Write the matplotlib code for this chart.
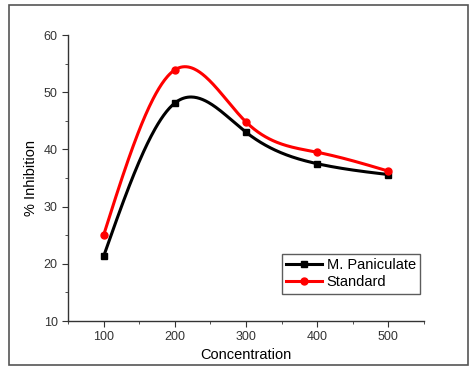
import numpy as np
import matplotlib.pyplot as plt
from matplotlib.patches import Rectangle

plt.rcParams['font.family'] = ['Liberation Sans', 'DejaVu Sans']

conc = [100, 200, 300, 400, 500]
paniculate = [21.3, 48.1, 43.0, 37.5, 35.6]
standard = [25.0, 53.9, 44.8, 39.5, 36.2]


# natural cubic spline, like Origin's spline line
def spline(x, y, n=300):
    x = np.asarray(x, float)
    y = np.asarray(y, float)
    k = len(x)
    h = np.diff(x)
    A = np.zeros((k, k))
    b = np.zeros(k)
    A[0, 0] = A[-1, -1] = 1
    for i in range(1, k - 1):
        A[i, i - 1] = h[i - 1]
        A[i, i] = 2 * (h[i - 1] + h[i])
        A[i, i + 1] = h[i]
        b[i] = 6 * ((y[i + 1] - y[i]) / h[i] - (y[i] - y[i - 1]) / h[i - 1])
    M = np.linalg.solve(A, b)
    xs = np.linspace(x[0], x[-1], n)
    idx = np.clip(np.searchsorted(x, xs) - 1, 0, k - 2)
    x0, x1 = x[idx], x[idx + 1]
    hh = x1 - x0
    t0, t1 = x1 - xs, xs - x0
    ys = (M[idx] * t0 ** 3 + M[idx + 1] * t1 ** 3) / (6 * hh) \
        + (y[idx] / hh - M[idx] * hh / 6) * t0 \
        + (y[idx + 1] / hh - M[idx + 1] * hh / 6) * t1
    return xs, ys


fig = plt.figure(figsize=(4.75, 3.7), dpi=100)
fig.patches.append(Rectangle((9 / 475, 5 / 370), 459 / 475, 360 / 370,
                             transform=fig.transFigure, fill=False,
                             edgecolor='#555555', linewidth=1.2))
ax = fig.add_axes([68 / 475, 49 / 370, 356 / 475, 286 / 370])

for yv, col, mk, ms, lab in [(paniculate, 'black', 's', 5, 'M. Paniculate'),
                             (standard, 'red', 'o', 5, 'Standard')]:
    xs, ys = spline(conc, yv)
    ax.plot(xs, ys, color=col, lw=2.2, zorder=2)
    ax.plot(conc, yv, linestyle='none', marker=mk, color=col, ms=ms, zorder=3)
    ax.plot([], [], color=col, lw=2.2, marker=mk, ms=ms, label=lab)

ax.set_xlim(50, 550)
ax.set_ylim(10, 60)
ax.set_xticks(conc)
ax.set_xticks(np.arange(50, 551, 50), minor=True)
ax.set_yticks(np.arange(10, 61, 10))
ax.set_yticks(np.arange(10, 61, 5), minor=True)
ax.spines['top'].set_visible(False)
ax.spines['right'].set_visible(False)
for s in ['left', 'bottom']:
    ax.spines[s].set_color('#333333')
    ax.spines[s].set_linewidth(1)
ax.tick_params(direction='out', length=4, labelsize=9, colors='#333333')
ax.tick_params(which='minor', direction='out', length=2.5, colors='#333333')
ax.set_xlabel('Concentration', fontsize=10.5, labelpad=3)
ax.set_ylabel('% Inhibition', fontsize=10.5, labelpad=4)

leg = ax.legend(loc='lower right', bbox_to_anchor=(1.01, 0.07), fontsize=10.5,
                frameon=True, fancybox=False, edgecolor='#333333',
                handlelength=2.5, handletextpad=0.3, borderpad=0.3,
                labelspacing=0.2)
leg.get_frame().set_linewidth(1)

fig.savefig('out.png', dpi=100)
